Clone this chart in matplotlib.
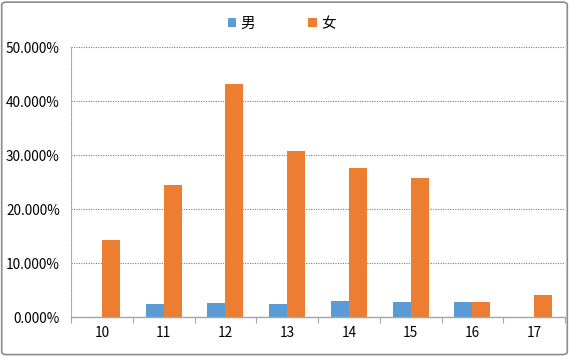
import matplotlib
matplotlib.use("Agg")
import matplotlib.pyplot as plt
from matplotlib.patches import Patch, FancyBboxPatch
import numpy as np

plt.rcParams['font.family'] = ['Noto Sans CJK SC', 'DejaVu Sans']

categories = ['10', '11', '12', '13', '14', '15', '16', '17']
male = [0.0, 2.4, 2.6, 2.4, 3.1, 2.9, 2.9, 0.0]
female = [14.3, 24.5, 43.2, 30.8, 27.6, 25.8, 2.9, 4.1]
series_names = ['男', '女']
yticks = [0, 10, 20, 30, 40, 50]

blue = '#5B9BD5'
orange = '#ED7D31'

fig = plt.figure(figsize=(5.69, 3.56), dpi=100)
ax = fig.add_axes([0.1248, 0.1087, 0.993 - 0.1248, 0.867 - 0.1087])

x = np.arange(len(categories))
w = 0.29
ax.bar(x - w / 2, male, w, color=blue, zorder=3)
ax.bar(x + w / 2, female, w, color=orange, zorder=3)

ax.set_xlim(-0.5, len(categories) - 0.5)
ax.set_ylim(0, 50)
ax.set_yticks(yticks)
ax.set_yticklabels([f'{v:.3f}%' for v in yticks], fontsize=9.8)
ax.set_xticks(x)
ax.set_xticklabels(categories, fontsize=9.8)
ax.set_xticks(np.arange(-0.5, len(categories)), minor=True)
ax.tick_params(axis='x', which='major', length=0, pad=6)
ax.tick_params(axis='x', which='minor', length=4, color='#a6a6a6', width=0.8)
ax.tick_params(axis='y', length=0, pad=8)

ax.yaxis.grid(True, linestyle=(0, (1, 1.2)), color='#7f7f7f', linewidth=0.8, zorder=0)
for s in ['top', 'right']:
    ax.spines[s].set_visible(False)
ax.spines['left'].set_linestyle((0, (1, 1.2)))
ax.spines['left'].set_color('#a6a6a6')
ax.spines['left'].set_linewidth(0.8)
ax.spines['bottom'].set_color('#a6a6a6')
ax.spines['bottom'].set_linewidth(1.0)
ax.spines['bottom'].set_zorder(4)

handles = [Patch(facecolor=blue), Patch(facecolor=orange)]
fig.legend(handles, series_names, loc='center', bbox_to_anchor=(0.495, 1 - 24 / 356),
           ncol=2, frameon=False, fontsize=10.5, handlelength=0.6, handleheight=0.6,
           handletextpad=0.3, columnspacing=3.6)

border = FancyBboxPatch((0.003, 0.004), 0.994, 0.99, boxstyle='round,pad=0,rounding_size=0.008',
                        transform=fig.transFigure, facecolor='none', edgecolor='#8c8c8c',
                        linewidth=1.2)
fig.patches.append(border)

fig.savefig('out.png', dpi=100)
